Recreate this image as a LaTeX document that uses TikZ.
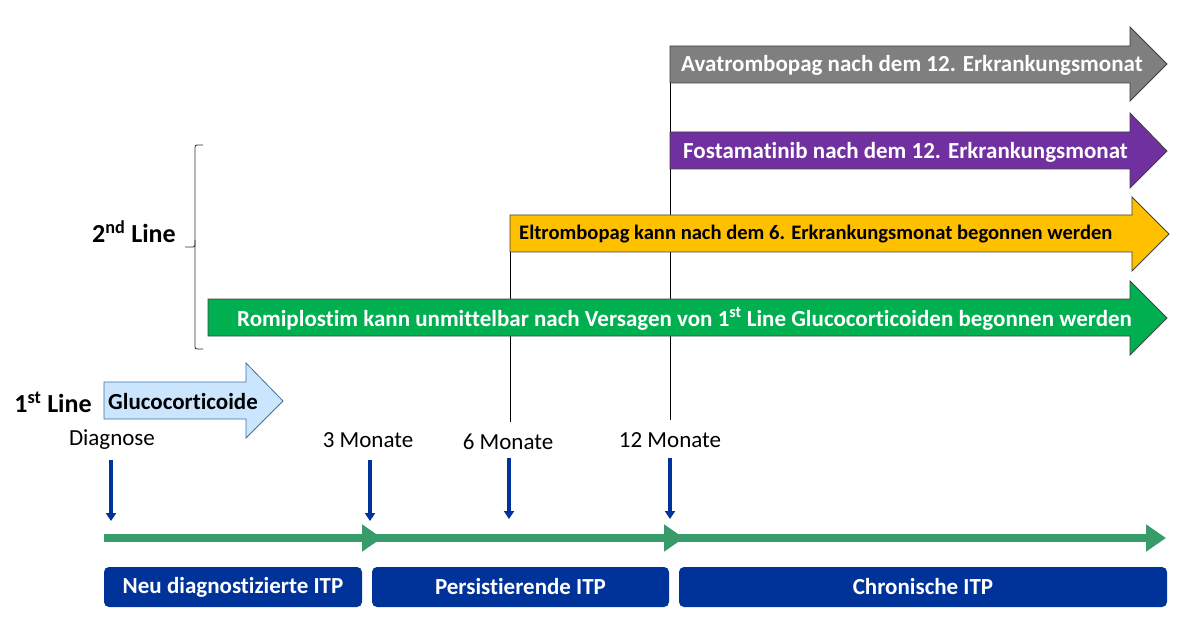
\documentclass[tikz,border=0pt]{standalone}
\usepackage{fontspec}
\setmainfont{Carlito}[Ligatures=NoCommon]
\usepackage{xcolor}
\usepackage{tikz}
\usetikzlibrary{arrows.meta, positioning, calc}

\definecolor{itpblue}{RGB}{0,51,153}
\definecolor{tlgreen}{RGB}{56,155,106}
\definecolor{avagray}{RGB}{127,127,127}
\definecolor{fostapurple}{RGB}{112,48,160}
\definecolor{eltroorange}{RGB}{255,192,0}
\definecolor{romigreen}{RGB}{0,176,80}
\definecolor{glucoblue}{RGB}{204,229,255}
\definecolor{glucoedge}{RGB}{65,113,156}

\begin{document}
\begin{tikzpicture}[
  x=1pt, y=-1pt,
  rxarrow/.style={draw=black!75, line width=0.8pt, line join=miter},
  rxtext/.style={anchor=west, inner sep=0pt, font=\fontsize{23}{27}\selectfont\bfseries, text=white},
  month/.style={inner sep=0pt, font=\fontsize{23}{27}\selectfont},
  linelabel/.style={inner sep=0pt, font=\fontsize{26}{30}\selectfont\bfseries},
  phase/.style={rectangle, rounded corners=5pt, fill=itpblue, text=white, minimum height=40pt, inner sep=0pt, font=\fontsize{23}{27}\selectfont\bfseries},
  downarrow/.style={itpblue, line width=3.5pt, -{Triangle[length=8pt, width=10pt]}},
  timeline/.style={tlgreen, line width=8pt, -{Triangle[length=20pt, width=26pt]}},
  startline/.style={black, line width=0.8pt}
]
\useasboundingbox (0,0) rectangle (1201,644);

% start lines (behind the arrows)
\coordinate (s6top) at (510,252);
\coordinate (s6bot) at (510,422);
\coordinate (s12top) at (670,83);
\coordinate (s12bot) at (670,420);
\draw[startline] (s6top) -- (s6bot);
\draw[startline] (s12top) -- (s12bot);

% therapy arrows
\draw[rxarrow, fill=avagray] (670,46) -- (1130,46) -- (1130,27) -- (1167,64) -- (1130,101) -- (1130,83) -- (670,83) -- cycle;
\node[rxtext] (ava) at (681,65) {Avatrombopag nach dem 12. Erkrankungsmonat};

\draw[rxarrow, fill=fostapurple] (670,132) -- (1130,132) -- (1130,113) -- (1167,151) -- (1130,188) -- (1130,169) -- (670,169) -- cycle;
\node[rxtext] (fosta) at (683,152) {Fostamatinib nach dem 12. Erkrankungsmonat};

\draw[rxarrow, fill=eltroorange] (510,215) -- (1132,215) -- (1132,197) -- (1169,234) -- (1132,271) -- (1132,252) -- (510,252) -- cycle;
\node[rxtext, text=black, font=\fontsize{20.6}{24}\selectfont\bfseries] (eltro) at (519,234) {Eltrombopag kann nach dem 6. Erkrankungsmonat begonnen werden};

\draw[rxarrow, fill=romigreen] (208,299) -- (1130,299) -- (1130,281) -- (1167,318) -- (1130,355) -- (1130,336) -- (208,336) -- cycle;
\node[rxtext] (romi) at (237,319) {Romiplostim kann unmittelbar nach Versagen von 1\textsuperscript{st} Line Glucocorticoiden begonnen werden};

\draw[rxarrow, draw=glucoedge, fill=glucoblue] (104,382) -- (246,382) -- (246,363) -- (283,401) -- (246,438) -- (246,419) -- (104,419) -- cycle;
\node[rxtext, text=black] (gluco) at (108,402) {Glucocorticoide};

% brace for 2nd line
\draw[black!80, line width=0.9pt, rounded corners=2pt] (203,145) -- (195,145) -- (195,247) -- (185,247);
\draw[black!80, line width=0.9pt, rounded corners=2pt] (195,240) -- (195,349) -- (203,349);

\node[linelabel] (second) at (134,232) {2\textsuperscript{nd} Line};
\node[linelabel] (first) at (53,402) {1\textsuperscript{st} Line};

% months
\node[month] (diag) at (112,440) {Diagnose};
\node[month] (m3) at (368,440) {3 Monate};
\node[month] (m6) at (508,442) {6 Monate};
\node[month] (m12) at (670,440) {12 Monate};

\foreach \n/\x/\y in {diag/111/460, m3/370/460, m6/509/458, m12/670/458}{
  \coordinate (\n top) at (\x,\y);
  \coordinate (\n bot) at (\x,\y+61);
  \draw[downarrow] (\n top) -- (\n bot);
}

% timeline
\coordinate (t0) at (104,538);
\coordinate (t3) at (382,538);
\coordinate (t3b) at (372,538);
\coordinate (t12) at (684,538);
\coordinate (t12b) at (674,538);
\coordinate (tend) at (1166,538);
\draw[black!20, line width=8pt, yshift=-2.5pt] (t0) -- ($(tend)+(-14,0)$);
\draw[timeline] (t0) -- (t3);
\draw[timeline] (t3b) -- (t12);
\draw[timeline] (t12b) -- (tend);

% phases
\node[phase, minimum width=258pt] (neu) at (233,587) {Neu diagnostizierte ITP};
\node[phase, minimum width=297pt] (pers) at (520.5,587) {Persistierende ITP};
\node[phase, minimum width=488pt] (chron) at (923,587) {Chronische ITP};

\end{tikzpicture}
\end{document}
